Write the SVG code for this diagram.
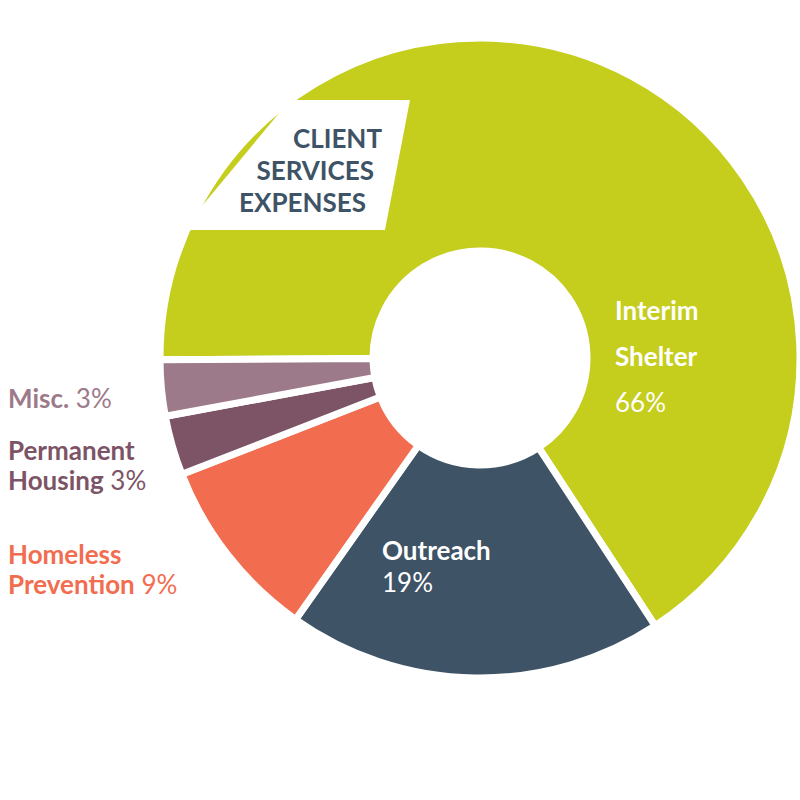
<svg xmlns="http://www.w3.org/2000/svg" width="800" height="800" viewBox="0 0 800 800">
<style>
.s{stroke:#fff;stroke-width:7;stroke-linejoin:miter}
text{font-family:Lato,"Open Sans",sans-serif;font-size:26px}
.b{font-weight:bold}
</style>
<rect width="800" height="800" fill="#fff"/>
<g id="interim"><path class="s" fill="#c5cd1d" d="M160,359.7 A320,320 0 1 1 655.2,625.8 L538.6,447.5 A107,107 0 1 0 373,358.6 Z"/></g>
<g id="outreach"><path class="s" fill="#3e5366" d="M655.2,625.8 A320,320 0 0 1 295.6,619.5 L418.3,445.4 A107,107 0 0 0 538.6,447.5 Z"/></g>
<g id="homeless"><path class="s" fill="#f26d50" d="M295.6,619.5 A320,320 0 0 1 181.9,474.3 L380.3,396.9 A107,107 0 0 0 418.3,445.4 Z"/></g>
<g id="permanent"><path class="s" fill="#7c5466" d="M181.9,474.3 A320,320 0 0 1 165.3,416.3 L374.8,377.5 A107,107 0 0 0 380.3,396.9 Z"/></g>
<g id="misc"><path class="s" fill="#9c7a8a" d="M165.3,416.3 A320,320 0 0 1 160,359.7 L373,358.6 A107,107 0 0 0 374.8,377.5 Z"/></g>
<g id="title"><polygon fill="#fff" points="290,100 410,100 385,230 182,230"/>
<text class="b" fill="#3e5366" text-anchor="end" x="382" y="148">CLIENT</text>
<text class="b" fill="#3e5366" text-anchor="end" x="374" y="180">SERVICES</text>
<text class="b" fill="#3e5366" text-anchor="end" x="366" y="212">EXPENSES</text></g>
<g id="labels">
<text class="b" fill="#fff" x="615" y="320" font-size="34">Interim</text>
<text class="b" fill="#fff" x="615" y="366" font-size="34">Shelter</text>
<text fill="#fff" x="615" y="412" font-size="34">66%</text>
<text class="b" fill="#fff" x="382" y="560">Outreach</text>
<text fill="#fff" x="382" y="592">19%</text>
<text fill="#9c7a8a" x="8" y="408"><tspan class="b">Misc.</tspan> 3%</text>
<text fill="#7c5466" x="8" y="460" class="b">Permanent</text>
<text fill="#7c5466" x="8" y="490"><tspan class="b">Housing</tspan> 3%</text>
<text fill="#f26d50" x="8" y="564" class="b">Homeless</text>
<text fill="#f26d50" x="8" y="594"><tspan class="b">Prevention</tspan> 9%</text>
</g>
</svg>
